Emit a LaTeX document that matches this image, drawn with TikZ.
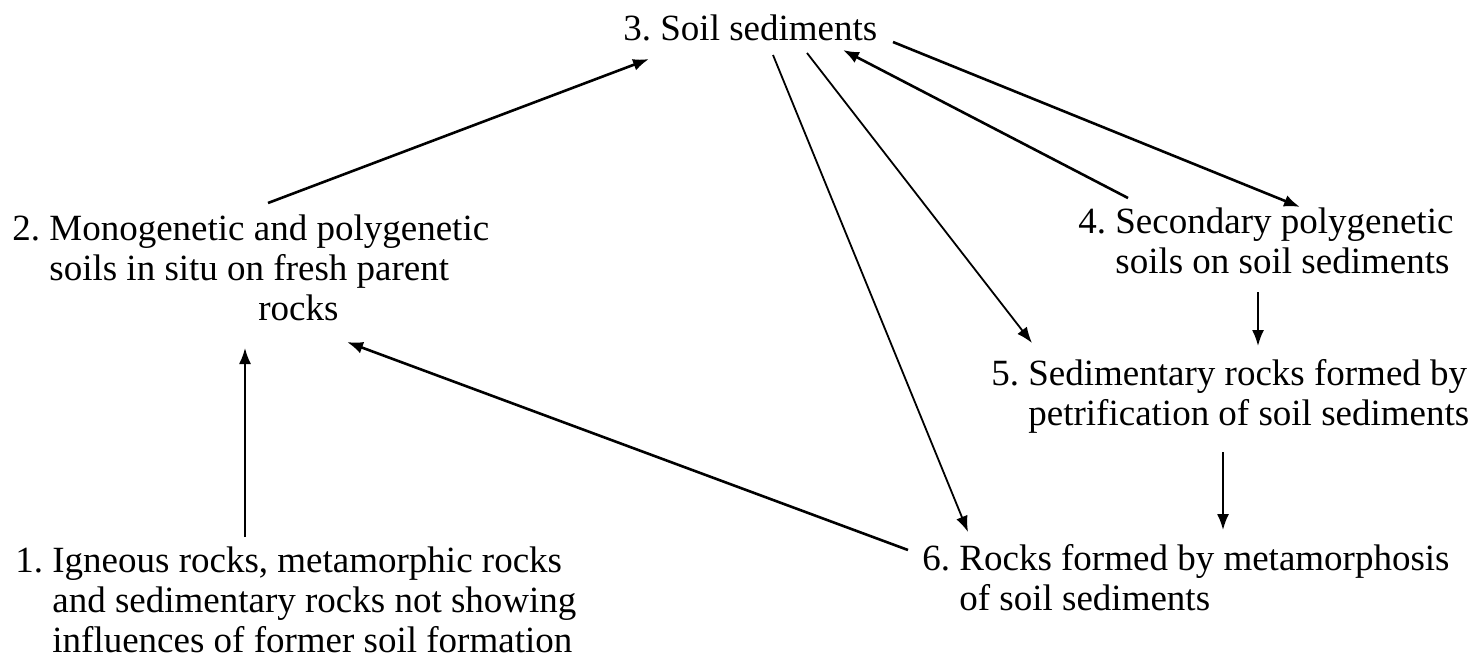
\documentclass[tikz,border=0pt]{standalone}
\usepackage{fontspec}
\setmainfont{Liberation Serif}
\usetikzlibrary{arrows.meta}
\frenchspacing

\begin{document}
\begin{tikzpicture}[x=0.5pt, y=-0.5pt,
	stage/.style={anchor=base west, inner sep=0pt, align=left, font=\fontsize{18.5}{20}\selectfont},
	link/.style={-{Latex[length=8pt,width=6pt]}, line width=1.3pt},
	thinlink/.style={-{Latex[length=8pt,width=6pt]}, line width=0.9pt}]
	\useasboundingbox (0,0) rectangle (1477,665);
	
	% stages (placed at the baseline of their last line)
	\node[stage] (s3) at (623,40) {3. Soil sediments};
	\node[stage] (s2) at (12,320) {2. Monogenetic and polygenetic\\\hphantom{2.\ }soils in situ on fresh parent\\\hspace*{123pt}rocks};
	\node[stage] (s1) at (15,652) {1. Igneous rocks, metamorphic rocks\\\hphantom{1.\ }and sedimentary rocks not showing\\\hphantom{1.\ }influences of former soil formation};
	\node[stage] (s4) at (1078,273) {4. Secondary polygenetic\\\hphantom{4.\ }soils on soil sediments};
	\node[stage] (s5) at (991,425) {5. Sedimentary rocks formed by\\\hphantom{5.\ }petrification of soil sediments};
	\node[stage] (s6) at (922,610) {6. Rocks formed by metamorphosis\\\hphantom{6.\ }of soil sediments};
	
	% arrows
	\draw[link] ([shift={(256,-117)}]s2.base west) -- ([shift={(26,19)}]s3.base west);
	\draw[thinlink] ([shift={(230,-115)}]s1.base west) -- ([shift={(233,28)}]s2.base west);
	\draw[link] ([shift={(-14,-60)}]s6.base west) -- ([shift={(335,22)}]s2.base west);
	\draw[thinlink] ([shift={(150,15)}]s3.base west) -- ([shift={(46,-78)}]s6.base west);
	\draw[thinlink] ([shift={(184,13)}]s3.base west) -- ([shift={(41,-82)}]s5.base west);
	\draw[link] ([shift={(50,-75)}]s4.base west) -- ([shift={(220,10)}]s3.base west);
	\draw[link] ([shift={(270,2)}]s3.base west) -- ([shift={(222,-66)}]s4.base west);
	\draw[thinlink] ([shift={(180,19)}]s4.base west) -- ([shift={(267,-79)}]s5.base west);
	\draw[thinlink] ([shift={(232,27)}]s5.base west) -- ([shift={(301,-80)}]s6.base west);
	
\end{tikzpicture}
\end{document}
